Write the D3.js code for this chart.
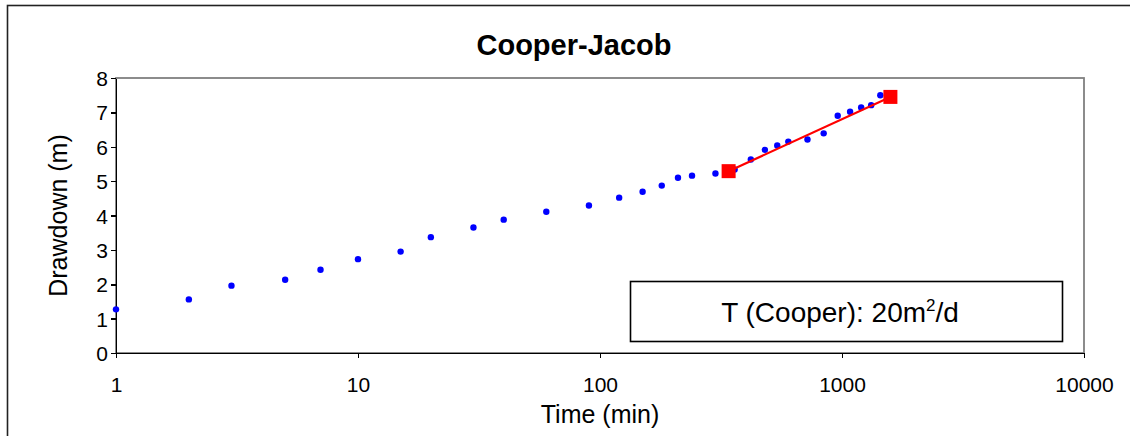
<!DOCTYPE html>
<html>
<head>
<meta charset="utf-8">
<script src="https://cdn.jsdelivr.net/npm/d3@7"></script>
<style>
  body { margin: 0; background: #fff; }
  svg { display: block; font-family: "Liberation Sans", Arial, sans-serif; }
  .axis path, .axis line { stroke: #000; stroke-width: 1.5; shape-rendering: crispEdges; }
  .axis text { font-family: "Liberation Sans", Arial, sans-serif; font-size: 21px; fill: #000; }
</style>
</head>
<body>
<div id="chart"></div>
<script>
// observed drawdown
var times = [1, 2, 3, 5, 7, 10, 15, 20, 30, 40, 60, 90, 120, 150, 180, 210, 240, 300,
  360, 420, 480, 540, 600, 720, 840, 960, 1080, 1200, 1320, 1440];
var drawdowns = [1.27, 1.56, 1.96, 2.13, 2.42, 2.73, 2.95, 3.37, 3.65, 3.88, 4.11, 4.29, 4.52, 4.69, 4.87, 5.10, 5.16, 5.22,
  5.34, 5.63, 5.91, 6.04, 6.15, 6.21, 6.39, 6.90, 7.02, 7.14, 7.21, 7.50];

// straight line fit (end points)
var fitTimes = [340, 1585];
var fitDrawdowns = [5.29, 7.45];

var xTicks = [1, 10, 100, 1000, 10000];
var yTicks = [0, 1, 2, 3, 4, 5, 6, 7, 8];

var width = 1130, height = 436;

var svg = d3.select("#chart").append("svg")
  .attr("width", width)
  .attr("height", height);

// chart area frame (runs off right and bottom)
svg.append("rect")
  .attr("x", 7.5).attr("y", 5.5)
  .attr("width", width + 10).attr("height", height + 10)
  .attr("fill", "none")
  .attr("stroke", "#222")
  .attr("stroke-width", 1.6);

var x = d3.scaleLog().domain([1, 10000]).range([116, 1084]);
var y = d3.scaleLinear().domain([0, 8]).range([353, 78]);

// plot area border
svg.append("rect")
  .attr("x", x(1)).attr("y", y(8))
  .attr("width", x(10000) - x(1)).attr("height", y(0) - y(8))
  .attr("fill", "none")
  .attr("stroke", "#808080")
  .attr("stroke-width", 1.8);

// axes
var xAxis = svg.append("g")
  .attr("class", "axis")
  .attr("transform", "translate(0," + y(0) + ")")
  .call(d3.axisBottom(x).tickValues(xTicks).tickFormat(d3.format("d")).tickSize(5).tickSizeOuter(0));
xAxis.selectAll("text").attr("dy", null).attr("y", 39);

var yAxis = svg.append("g")
  .attr("class", "axis")
  .attr("transform", "translate(" + x(1) + ",0)")
  .call(d3.axisLeft(y).tickValues(yTicks).tickFormat(d3.format("d")).tickSize(5).tickSizeOuter(0));
yAxis.selectAll("text").attr("x", -8).attr("dy", "0.36em");

// titles
svg.append("text")
  .attr("x", 574).attr("y", 55)
  .attr("text-anchor", "middle")
  .style("font-size", "29px").style("font-weight", "bold")
  .text("Cooper-Jacob");

svg.append("text")
  .attr("x", (x(1) + x(10000)) / 2).attr("y", 423)
  .attr("text-anchor", "middle")
  .style("font-size", "25px")
  .text("Time (min)");

svg.append("text")
  .attr("transform", "translate(67," + (y(0) + y(8)) / 2 + ") rotate(-90)")
  .attr("text-anchor", "middle")
  .style("font-size", "25px")
  .text("Drawdown (m)");

// observed points
svg.append("g").selectAll("circle")
  .data(times)
  .enter().append("circle")
  .attr("cx", function (d) { return x(d); })
  .attr("cy", function (d, i) { return y(drawdowns[i]); })
  .attr("r", 3.2)
  .attr("fill", "#0000ff");

// fitted line
var line = d3.line()
  .x(function (d) { return x(d); })
  .y(function (d, i) { return y(fitDrawdowns[i]); });

svg.append("path")
  .datum(fitTimes)
  .attr("d", line)
  .attr("fill", "none")
  .attr("stroke", "#ff0000")
  .attr("stroke-width", 2.2);

svg.append("g").selectAll("rect")
  .data(fitTimes)
  .enter().append("rect")
  .attr("x", function (d) { return x(d) - 7; })
  .attr("y", function (d, i) { return y(fitDrawdowns[i]) - 7; })
  .attr("width", 14).attr("height", 14)
  .attr("fill", "#ff0000");

// result box
var box = svg.append("g");
box.append("rect")
  .attr("x", 630.5).attr("y", 281.5)
  .attr("width", 432).attr("height", 60)
  .attr("fill", "#fff")
  .attr("stroke", "#000")
  .attr("stroke-width", 1.6);

var label = box.append("text")
  .attr("x", 840).attr("y", 322)
  .attr("text-anchor", "middle")
  .style("font-size", "28px");
label.append("tspan").text("T (Cooper): 20m");
label.append("tspan").attr("dy", -11).style("font-size", "17px").text("2");
label.append("tspan").attr("dy", 11).text("/d");
</script>
</body>
</html>
